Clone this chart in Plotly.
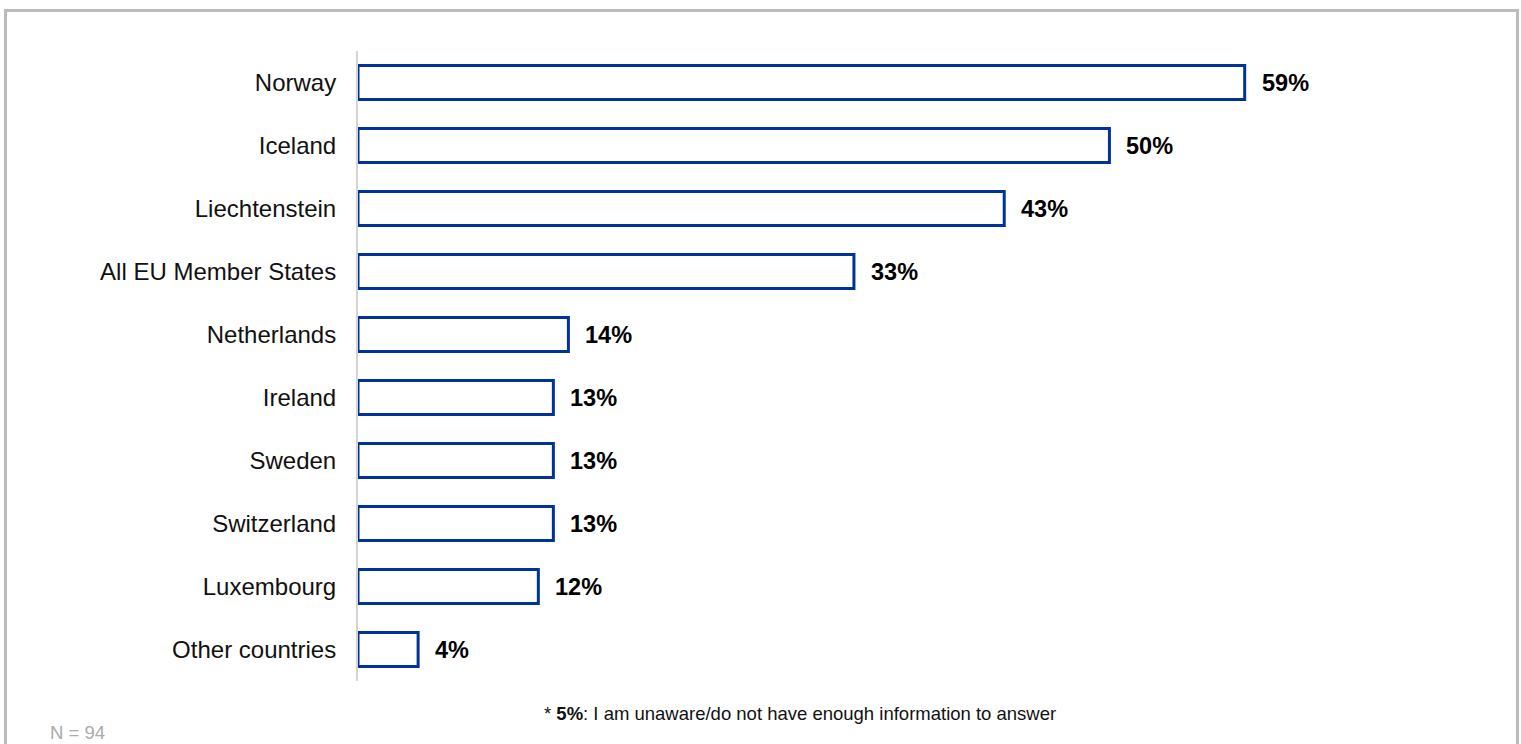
import plotly.graph_objects as go

categories = ["Norway", "Iceland", "Liechtenstein", "All EU Member States", "Netherlands",
              "Ireland", "Sweden", "Switzerland", "Luxembourg", "Other countries"]
values = [59, 50, 43, 33, 14, 13, 13, 13, 12, 4]
value_labels = [f"{v}%" for v in values]
footnote = "* <b>5%</b>: I am unaware/do not have enough information to answer"
sample_note = "N = 94"

FONT = "Liberation Sans, Arial, sans-serif"
W, H = 1521, 744
L, R, T, B = 358, 111, 51, 63
PW, PH = W - L - R, H - T - B

def px_x(p):
    return (p - L) / PW

def px_y(p):
    return (H - B - p) / PH

fig = go.Figure()
fig.add_trace(go.Bar(
    x=values, y=categories, orientation="h",
    marker=dict(color="white", line=dict(color="#003399", width=3)),
    width=0.54, hoverinfo="skip",
))

for v, c, lab in zip(values, categories, value_labels):
    fig.add_annotation(x=v, y=c, xref="x", yref="y", text=f"<b>{lab}</b>",
                       showarrow=False, xanchor="left", yanchor="middle", xshift=15,
                       font=dict(family=FONT, size=23.5, color="#000000"))

fig.add_annotation(x=px_x(799.5), y=px_y(713), xref="paper", yref="paper", text=footnote,
                   showarrow=False, xanchor="center", yanchor="middle",
                   font=dict(family=FONT, size=18.5, color="#111111"))
fig.add_annotation(x=px_x(48), y=px_y(732), xref="paper", yref="paper", text=sample_note,
                   showarrow=False, xanchor="left", yanchor="middle",
                   font=dict(family=FONT, size=18.5, color="#aaaaaa"))

fig.add_shape(type="rect", xref="paper", yref="paper",
              x0=px_x(5.5), x1=px_x(1517.5), y0=px_y(780), y1=px_y(10.5),
              line=dict(color="#bbbbbb", width=3), fillcolor="rgba(0,0,0,0)", layer="below")

fig.update_layout(
    width=W, height=H,
    margin=dict(l=L, r=R, t=T, b=B, pad=0),
    paper_bgcolor="white", plot_bgcolor="white",
    showlegend=False,
    font=dict(family=FONT, size=24, color="#111111"),
    xaxis=dict(range=[0, 70], visible=False, fixedrange=True),
    yaxis=dict(autorange="reversed", showline=True, linecolor="#d4d4d4", linewidth=2,
               showgrid=False, zeroline=False, ticks="", ticklabelstandoff=15,
               tickfont=dict(family=FONT, size=24, color="#111111"), fixedrange=True),
)

fig.write_html("out.html",
               config={"displayModeBar": False, "staticPlot": True},
               post_script="document.body.style.margin='0';document.body.style.overflow='hidden';")
